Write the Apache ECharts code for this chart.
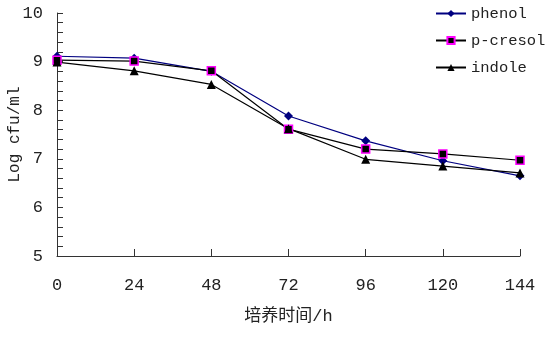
<!DOCTYPE html>
<html>
<head>
<meta charset="utf-8">
<script src="https://cdn.jsdelivr.net/npm/echarts@6/dist/echarts.min.js"></script>
<style>
  html, body { margin: 0; padding: 0; background: #fff; }
  #chart { width: 548px; height: 340px; }
</style>
</head>
<body>
<div id="chart"></div>
<script>
// 培养时间 (h)
var hours = [0, 24, 48, 72, 96, 120, 144];
var phenol = [9.11, 9.07, 8.80, 7.88, 7.37, 6.96, 6.65];
var pCresol = [9.03, 9.01, 8.81, 7.61, 7.20, 7.10, 6.97];
var indole = [8.99, 8.81, 8.53, 7.62, 6.99, 6.85, 6.71];

var font = '"Liberation Mono", "Noto Sans CJK SC", monospace';

function pairs(vals) {
    return hours.map(function (h, i) { return [h, vals[i]]; });
}

var chart = echarts.init(document.getElementById('chart'));
chart.setOption({
    animation: false,
    backgroundColor: '#fff',
    textStyle: { fontFamily: font },
    grid: { left: 57, right: 28, top: 13, bottom: 84, outerBoundsMode: 'none' },
    legend: {
        data: ['phenol', 'p-cresol', 'indole'],
        orient: 'vertical',
        left: 435,
        top: 5,
        padding: 0,
        itemWidth: 30,
        itemHeight: 9,
        itemGap: 10,
        textStyle: { fontFamily: font, fontSize: 15.5, color: '#222', lineHeight: 17 }
    },
    xAxis: {
        type: 'value',
        min: 0,
        max: 144,
        interval: 24,
        name: '培养时间/h',
        nameLocation: 'middle',
        nameGap: 52,
        nameMoveOverlap: false,
        nameTextStyle: { fontFamily: font, fontSize: 17, color: '#222' },
        axisLine: { lineStyle: { color: '#333', width: 1 } },
        axisTick: { inside: true, length: 7, lineStyle: { color: '#333' } },
        axisLabel: { margin: 21, fontSize: 17, color: '#222', fontFamily: font },
        splitLine: { show: false }
    },
    yAxis: {
        type: 'value',
        min: 5,
        max: 10,
        interval: 1,
        name: 'Log cfu/ml',
        nameLocation: 'middle',
        nameGap: 34,
        nameMoveOverlap: false,
        nameTextStyle: { fontFamily: font, fontSize: 16, color: '#222' },
        axisLine: { show: true, lineStyle: { color: '#333', width: 1 } },
        axisTick: { show: true, inside: true, length: 6, lineStyle: { color: '#333' } },
        minorTick: { show: true, splitNumber: 5, length: 6, lineStyle: { color: '#333' } },
        axisLabel: { margin: 14, fontSize: 17, color: '#222', fontFamily: font },
        splitLine: { show: false }
    },
    series: [
        {
            name: 'phenol',
            type: 'line',
            data: pairs(phenol),
            symbol: 'diamond',
            symbolSize: 9,
            lineStyle: { color: '#000080', width: 1.2 },
            itemStyle: { color: '#000080' }
        },
        {
            name: 'p-cresol',
            type: 'line',
            data: pairs(pCresol),
            symbol: 'rect',
            symbolSize: 8,
            lineStyle: { color: '#000', width: 1.2 },
            itemStyle: { color: '#000', borderColor: '#ff00ff', borderWidth: 1.5 }
        },
        {
            name: 'indole',
            type: 'line',
            data: pairs(indole),
            symbol: 'triangle',
            symbolSize: 9,
            lineStyle: { color: '#000', width: 1.2 },
            itemStyle: { color: '#000' }
        }
    ]
});
</script>
</body>
</html>
